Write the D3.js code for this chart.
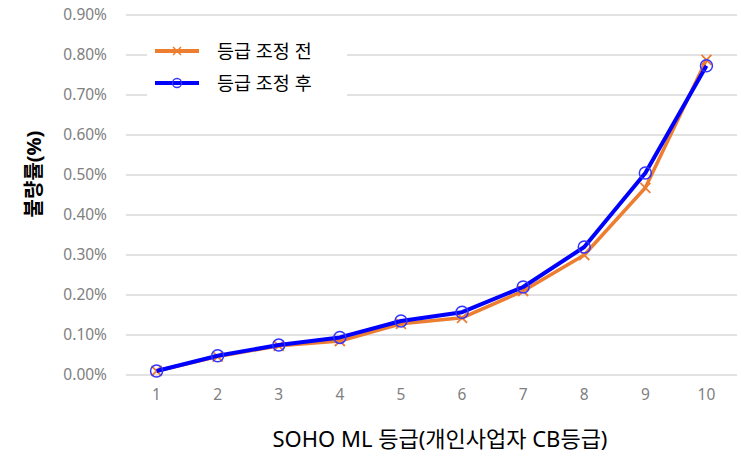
<!DOCTYPE html>
<html><head><meta charset="utf-8">
<script src="https://cdn.jsdelivr.net/npm/d3@7"></script>
<style>body{margin:0;background:#fff;}svg{display:block;}</style>
</head><body>
<svg id="c" width="737" height="455"></svg>
<script>
const categories = ["1","2","3","4","5","6","7","8","9","10"];
const before = [0.010, 0.046, 0.073, 0.085, 0.128, 0.143, 0.210, 0.300, 0.468, 0.788];
const after  = [0.010, 0.048, 0.075, 0.094, 0.135, 0.157, 0.220, 0.320, 0.505, 0.773];
const yTicks = [0, 0.1, 0.2, 0.3, 0.4, 0.5, 0.6, 0.7, 0.8, 0.9];
const seriesNames = ["등급 조정 전", "등급 조정 후"];
const xTitle = "SOHO ML 등급(개인사업자 CB등급)";
const yTitle = "불량률(%)";

(function(){
const svg = d3.select("#c");
const mLeft = 126, mRight = 737, mTop = 15, mBottom = 375;
const x = d3.scaleBand().domain(categories).range([mLeft, mRight]);
const y = d3.scaleLinear().domain([0, 0.9]).range([mBottom, mTop]);
const font = "'Noto Sans', 'Noto Sans CJK KR', sans-serif";

// gridlines
svg.append("g").selectAll("line").data(yTicks).join("line")
  .attr("x1", mLeft).attr("x2", mRight)
  .attr("y1", d => y(d)).attr("y2", d => y(d))
  .attr("stroke", "#d9d9d9").attr("stroke-width", 1.3);

// y axis labels
const yAxis = d3.axisLeft(y).tickValues(yTicks).tickFormat(d => d.toFixed(2) + "%").tickSize(0).tickPadding(19);
const ga = svg.append("g").attr("transform", `translate(${mLeft},0)`).call(yAxis);
ga.select(".domain").remove();
ga.selectAll("text").attr("font-family", font).attr("font-size", 15.5).attr("fill", "#808080");

// x axis labels
const xAxis = d3.axisBottom(x).tickSize(0).tickPadding(14);
const gx = svg.append("g").attr("transform", `translate(0,${mBottom})`).call(xAxis);
gx.select(".domain").remove();
gx.selectAll("text").attr("font-family", font).attr("font-size", 15.5).attr("fill", "#808080");

const cx = d => x(d) + x.bandwidth() / 2;
const line = d3.line().x(d => cx(d.c)).y(d => y(d.v));
const dBefore = categories.map((c, i) => ({c, v: before[i]}));
const dAfter = categories.map((c, i) => ({c, v: after[i]}));

const orange = "#ed7d31", blue = "#0000ff";

// orange series
svg.append("path").datum(dBefore).attr("d", line).attr("fill", "none")
  .attr("stroke", orange).attr("stroke-width", 3.5).attr("stroke-linejoin", "round");
svg.append("g").selectAll("path").data(dBefore).join("path")
  .attr("d", d => { const px = cx(d.c), py = y(d.v), s = 5; return `M${px-s},${py-s}L${px+s},${py+s}M${px-s},${py+s}L${px+s},${py-s}`; })
  .attr("stroke", orange).attr("stroke-width", 1.8).attr("fill", "none");

// blue series
svg.append("path").datum(dAfter).attr("d", line).attr("fill", "none")
  .attr("stroke", blue).attr("stroke-width", 4).attr("stroke-linejoin", "round");
svg.append("g").selectAll("circle").data(dAfter).join("circle")
  .attr("cx", d => cx(d.c)).attr("cy", d => y(d.v)).attr("r", 6)
  .attr("fill", "none").attr("stroke", "#3333ff").attr("stroke-width", 1.5);

// legend
const lg = svg.append("g");
lg.append("rect").attr("x", 147).attr("y", 34).attr("width", 200).attr("height", 64).attr("fill", "#fff");
const items = [{name: seriesNames[0], color: orange, type: "x", yy: 51}, {name: seriesNames[1], color: blue, type: "o", yy: 83}];
items.forEach(it => {
  lg.append("line").attr("x1", 155).attr("x2", 199).attr("y1", it.yy).attr("y2", it.yy)
    .attr("stroke", it.color).attr("stroke-width", 4);
  if (it.type === "x") {
    const s = 4, px = 177, py = it.yy;
    lg.append("path").attr("d", `M${px-s},${py-s}L${px+s},${py+s}M${px-s},${py+s}L${px+s},${py-s}`)
      .attr("stroke", it.color).attr("stroke-width", 1.5);
  } else {
    lg.append("circle").attr("cx", 177).attr("cy", it.yy).attr("r", 4.5).attr("fill", "none")
      .attr("stroke", "#3333ff").attr("stroke-width", 1.3);
  }
  lg.append("text").attr("x", 217).attr("y", it.yy + 7).text(it.name)
    .attr("font-family", font).attr("font-size", 18.5).attr("fill", "#000");
});

// titles
svg.append("text").attr("x", 440).attr("y", 447).attr("text-anchor", "middle")
  .attr("font-family", font).attr("font-size", 22).attr("fill", "#000").text(xTitle);
svg.append("text").attr("transform", "translate(41,174) rotate(-90)").attr("text-anchor", "middle")
  .attr("font-family", font).attr("font-size", 20).attr("font-weight", "bold").attr("fill", "#000").text(yTitle);
})();
</script>
</body></html>
